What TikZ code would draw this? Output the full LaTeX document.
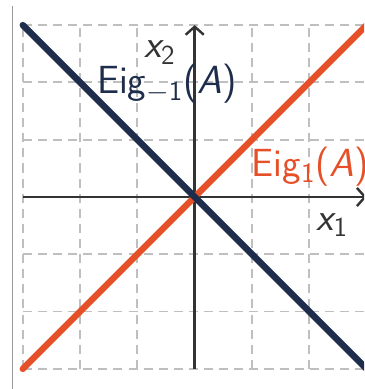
\documentclass[tikz,border=0pt]{standalone}
\usepackage{amsmath}
\usepackage{fontspec}
\usetikzlibrary{arrows.meta}
\definecolor{navy}{HTML}{1E2D4B}
\definecolor{orng}{HTML}{E65028}
\definecolor{axisgray}{HTML}{333333}
\begin{document}
\begin{tikzpicture}[
  gridline/.style={draw=black!25, line width=0.9pt, dash pattern=on 4.5pt off 3pt},
  axisline/.style={draw=axisgray, line width=1.2pt, -{Straight Barb[length=4pt,width=9pt]}},
  eigline/.style={line width=3.2pt, line cap=round},
  lbl/.style={inner sep=0pt, anchor=base west, font=\fontsize{19.5}{22}\selectfont\sffamily}
]
\useasboundingbox (-3.398,-3.351) rectangle (2.955,3.438);
\clip (-3.398,-3.351) rectangle (2.955,3.438);
% frame line on the left
\coordinate (ftop) at (-3.176,3.333);
\coordinate (fbot) at (-3.176,-3.5);
\draw[black!40, line width=0.7pt] (ftop) -- (fbot);
% grid
\draw[gridline] (-3,-3) grid (3,3);
% axes
\coordinate (xl) at (-3,0);
\coordinate (xr) at (3,0);
\coordinate (yb) at (0,-3);
\coordinate (yt) at (0,3);
\draw[axisline] (xl) -- (xr);
\draw[axisline] (yb) -- (yt);
% eigenspaces
\coordinate (ll) at (-3,-3);
\coordinate (ur) at (3,3);
\coordinate (ul) at (-3,3);
\coordinate (lr) at (3,-3);
\draw[eigline, orng] (ll) -- (ur);
\draw[eigline, navy] (ul) -- (lr);
% labels
\node[lbl, text=axisgray] (xtwo) at (-0.89,2.43) {{\itshape x}$_{\text{2}}$};
\node[lbl, text=navy] (eigm) at (-1.71,1.80) {Eig$_{-\text{1}}$({\itshape A})};
\node[lbl, text=orng] (eigp) at (0.99,0.36) {Eig$_{\text{1}}$({\itshape A})};
\node[lbl, text=axisgray] (xone) at (2.12,-0.58) {{\itshape x}$_{\text{1}}$};
\end{tikzpicture}
\end{document}
